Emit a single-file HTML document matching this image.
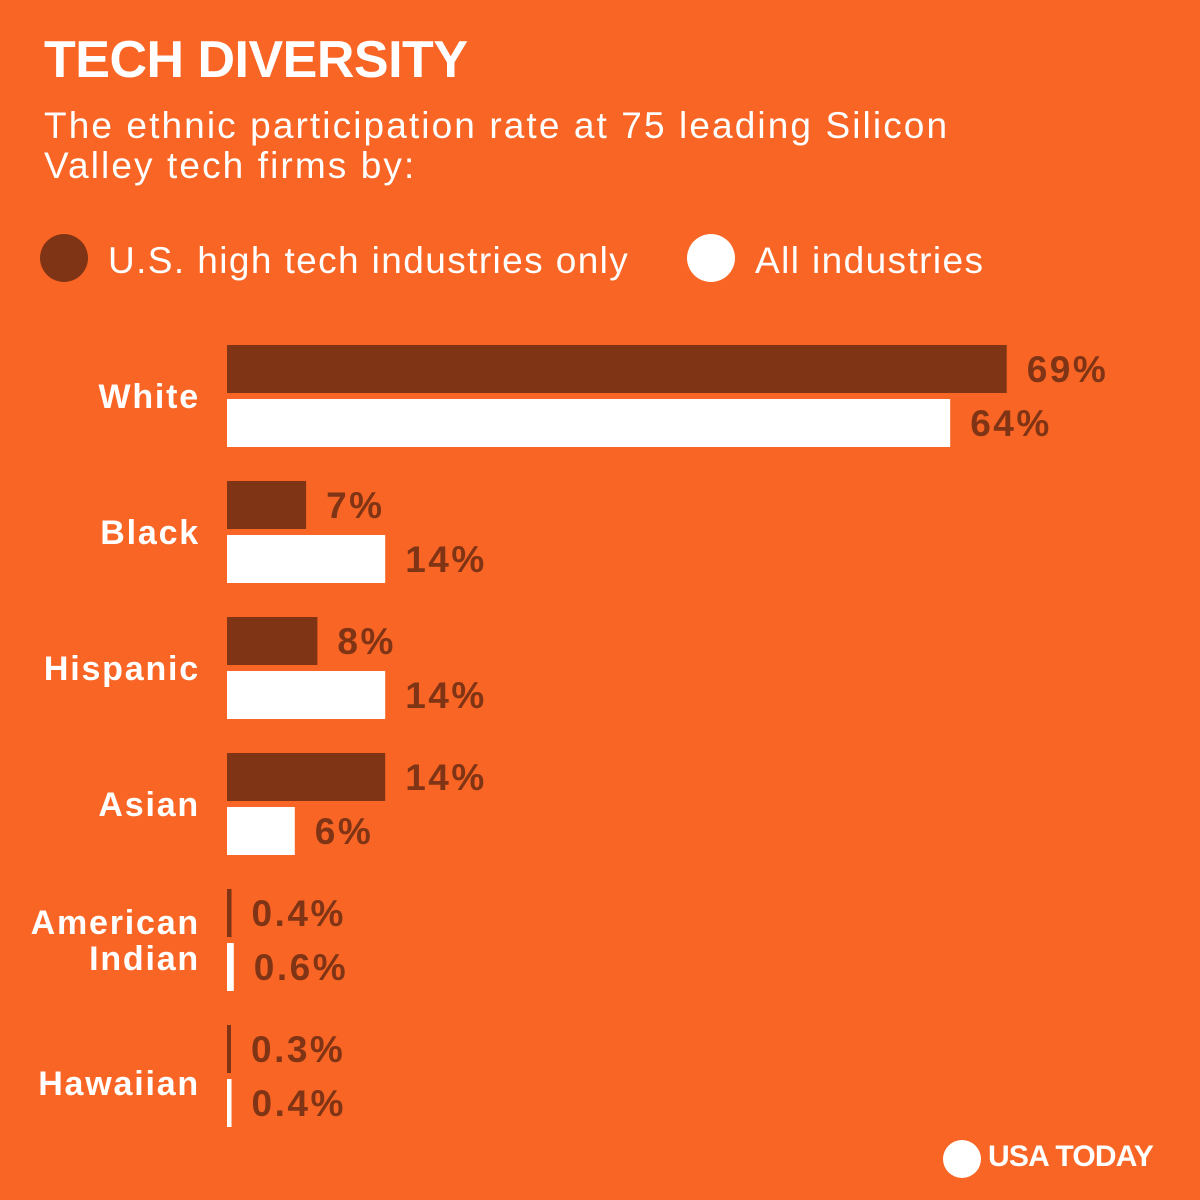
<!DOCTYPE html>
<html><head><meta charset="utf-8"><style>
html,body{margin:0;padding:0}
body{width:1200px;height:1200px;background:#f96524;position:relative;overflow:hidden;font-family:"Liberation Sans",sans-serif;color:#fff}
.t{position:absolute;white-space:nowrap}
</style></head><body>
<div class="t" style="left:44px;top:30px;font-size:52px;font-weight:bold;letter-spacing:-0.5px">TECH DIVERSITY</div>
<div class="t" style="left:44px;top:106px;font-size:37px;line-height:40px;letter-spacing:2.1px">The ethnic participation rate at 75 leading Silicon<br>Valley tech firms by:</div>
<div style="position:absolute;left:40px;top:234px;width:48px;height:48px;border-radius:50%;background:#7f3415"></div>
<div class="t" style="left:108px;top:240px;font-size:37px;letter-spacing:1.4px">U.S. high tech industries only</div>
<div style="position:absolute;left:687px;top:234px;width:48px;height:48px;border-radius:50%;background:#fff"></div>
<div class="t" style="left:755px;top:240px;font-size:37px;letter-spacing:1.4px">All industries</div>
<svg id="chart" width="1200" height="1200" style="position:absolute;left:0;top:0"></svg>
<div style="position:absolute;left:943px;top:1140px;width:38px;height:38px;border-radius:50%;background:#fff"></div>
<div class="t" style="left:988px;top:1140px;font-size:30px;font-weight:bold;letter-spacing:-0.8px">USA TODAY</div>
<script>
const categories=["White","Black","Hispanic","Asian","American Indian","Hawaiian"];
const techValues=[69,7,8,14,0.4,0.3];
const allValues=[64,14,14,6,0.6,0.4];
const techLabels=["69%","7%","8%","14%","0.4%","0.3%"];
const allLabels=["64%","14%","14%","6%","0.6%","0.4%"];
const NS="http://www.w3.org/2000/svg";
const svg=document.getElementById('chart');
const x0=227,scale=11.3,groupTop=345,groupStep=136,barH=48,gap=6;
function xw(v){return Math.max(4,v*scale);}
function yBar(i,s){return groupTop+i*groupStep+s*(barH+gap);}
function el(tag,attrs){const e=document.createElementNS(NS,tag);for(const k in attrs)e.setAttribute(k,attrs[k]);return e;}
categories.forEach((c,i)=>{
  [[techValues,techLabels,"#7f3415"],[allValues,allLabels,"#ffffff"]].forEach((s,si)=>{
    const w=xw(s[0][i]);const y=yBar(i,si);
    const r=el('rect',{x:x0,y:y,width:w,height:barH,fill:s[2]});
    
    
    svg.appendChild(r);
    const t=el('text',{x:x0+w+20,y:y+barH/2+13,fill:"#7f3415","font-size":"37","font-weight":"bold","letter-spacing":"2.5","font-family":"Liberation Sans, sans-serif"});
    t.textContent=s[1][i];
    
    
    svg.appendChild(t);
  });
  const cy=groupTop+i*groupStep+barH+gap/2;
  const lines=c==="American Indian"?["American","Indian"]:[c];
  lines.forEach((ln,li)=>{
    const t=el('text',{x:200,y:cy+12+(li-(lines.length-1)/2)*36+(c==="Hawaiian"?7:0),fill:"#fff","font-size":"34","font-weight":"bold","letter-spacing":"1.8","text-anchor":"end","font-family":"Liberation Sans, sans-serif"});
    t.textContent=ln;
    
    
    svg.appendChild(t);
  });
});
</script>
</body></html>
